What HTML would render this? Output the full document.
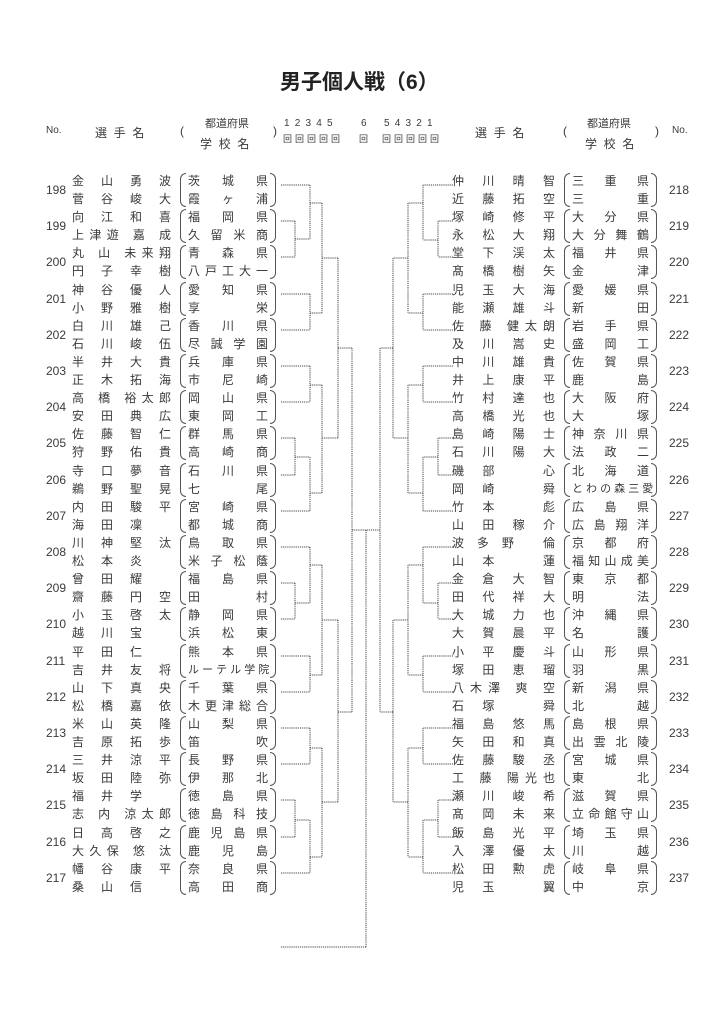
<!DOCTYPE html>
<html><head><meta charset="utf-8">
<style>
*{margin:0;padding:0;box-sizing:border-box}
body{width:728px;height:1035px;background:#fff;position:relative;overflow:hidden;font-family:"Liberation Sans","Noto Sans CJK JP",sans-serif;color:#3a3a3a}
.t{position:absolute;white-space:nowrap}
.e{position:absolute;left:0;width:728px;height:36px}
.e p{position:absolute;font-size:12px;line-height:18px;height:18px;text-align:justify;text-align-last:justify;white-space:nowrap;overflow:visible}
.e p.sm{font-size:11px}
s{visibility:hidden;text-decoration:none}
.no{position:absolute;font-size:12px;line-height:14px;top:11px}
.bl,.br{position:absolute;top:1px;height:34px;width:6px;border:1px solid #555}
.bl{border-right:none;border-radius:7px 0 0 7px}
.br{border-left:none;border-radius:0 7px 7px 0}
.L .n{left:72px;width:99px}
.L .s{left:188px;width:80px}
.L .bl{left:180px}.L .br{left:270px}
.L .no{left:46px}
.R .n{left:452px;width:103px}
.R .s{left:572px;width:77px}
.R .bl{left:564px}.R .br{left:651px}
.R .no{left:669px}
.a{top:0}.b{top:18px}
.h{position:absolute;font-size:12px}
</style></head><body>
<div class="t" style="left:280px;top:66px;font-size:21px;font-weight:bold;color:#222">男子個人戦（6）</div>

<div class="h" style="left:46px;top:125px;font-size:10px">No.</div>
<div class="h" style="left:95px;top:124px">選&nbsp;&nbsp;手&nbsp;&nbsp;名</div>
<div class="h" style="left:180px;top:124px">(</div>
<div class="h" style="left:205px;top:115px;font-size:11px">都道府県</div>
<div class="h" style="left:200px;top:135px">学&nbsp;&nbsp;校&nbsp;&nbsp;名</div>
<div class="h" style="left:273px;top:124px">)</div>
<div class="h" style="left:284px;top:118px;font-size:10px;letter-spacing:5.2px">12345</div>
<div class="h" style="left:283px;top:132px;font-size:9px;letter-spacing:3px">回回回回回</div>
<div class="h" style="left:361px;top:118px;font-size:10px">6</div>
<div class="h" style="left:359px;top:132px;font-size:9px">回</div>
<div class="h" style="left:384px;top:118px;font-size:10px;letter-spacing:5.2px">54321</div>
<div class="h" style="left:382px;top:132px;font-size:9px;letter-spacing:3px">回回回回回</div>
<div class="h" style="left:475px;top:124px">選&nbsp;&nbsp;手&nbsp;&nbsp;名</div>
<div class="h" style="left:563px;top:124px">(</div>
<div class="h" style="left:587px;top:115px;font-size:11px">都道府県</div>
<div class="h" style="left:585px;top:135px">学&nbsp;&nbsp;校&nbsp;&nbsp;名</div>
<div class="h" style="left:655px;top:124px">)</div>
<div class="h" style="left:672px;top:125px;font-size:10px">No.</div>

<svg width="728" height="1035" style="position:absolute;left:0;top:0" fill="none" stroke="#444" stroke-width="1" stroke-dasharray="1.2 0.9">
<path d="M281 185H310 M281 221H295 M281 257H295 M295 221V257 M295 239H310 M310 185V239 M310 203H322 M322 203V313 M281 294H310 M281 330H310 M310 294V330 M310 313H322 M322 258H338 M338 258V438 M281 366H310 M281 402H310 M310 366V402 M310 385H322 M322 385V493 M281 438H295 M281 475H295 M295 438V475 M295 457H310 M281 511H310 M310 457V511 M310 493H322 M322 438H338 M338 348H352 M352 348V712
M281 547H310 M310 547V603 M281 583H295 M281 619H295 M295 583V619 M295 603H310 M310 565H322 M322 565V675 M281 656H310 M281 692H310 M310 656V692 M310 675H322 M322 620H338 M338 620V802 M338 712H352 M281 728H310 M281 764H310 M310 728V764 M310 748H322 M322 748V857 M281 800H295 M281 837H295 M295 800V837 M295 820H310 M281 873H310 M310 820V873 M310 857H322 M322 802H338
M352 530H380 M366 530V947 M281 947H366
M453 185H423 M423 185V240 M453 221H438 M453 257H438 M438 221V257 M438 240H423 M423 203H408 M408 203V313 M453 294H423 M453 330H423 M423 294V330 M423 313H408 M408 258H393 M393 258V438 M453 366H423 M453 402H423 M423 366V402 M423 385H408 M408 385V493 M453 438H438 M453 475H438 M438 438V475 M438 457H423 M453 511H423 M423 457V511 M423 493H408 M408 438H393 M393 348H380 M380 348V712
M453 547H423 M423 547V603 M453 583H438 M453 619H438 M438 583V619 M438 603H423 M423 565H408 M408 565V675 M453 656H423 M453 692H423 M423 656V692 M423 675H408 M408 620H393 M393 620V802 M393 712H380 M453 728H423 M453 764H423 M423 728V764 M423 748H408 M408 748V857 M453 800H438 M453 837H438 M438 800V837 M438 820H423 M453 873H423 M423 820V873 M423 857H408 M408 802H393"/>
</svg>

<!-- LEFT -->
<div class="e L" style="top:172px"><span class="no">198</span><p class="n a">金 山 勇 波</p><p class="n b">菅 谷 峻 大</p><i class="bl"></i><p class="s a">茨 城 県</p><p class="s b">霞 ヶ 浦</p><i class="br"></i></div>
<div class="e L" style="top:208px"><span class="no">199</span><p class="n a">向 江 和 喜</p><p class="n b">上津遊 嘉 成</p><i class="bl"></i><p class="s a">福 岡 県</p><p class="s b">久 留 米 商</p><i class="br"></i></div>
<div class="e L" style="top:244px"><span class="no">200</span><p class="n a">丸 山 未来翔</p><p class="n b">円 子 幸 樹</p><i class="bl"></i><p class="s a">青 森 県</p><p class="s b">八 戸 工 大 一</p><i class="br"></i></div>
<div class="e L" style="top:281px"><span class="no">201</span><p class="n a">神 谷 優 人</p><p class="n b">小 野 雅 樹</p><i class="bl"></i><p class="s a">愛 知 県</p><p class="s b">享 栄</p><i class="br"></i></div>
<div class="e L" style="top:317px"><span class="no">202</span><p class="n a">白 川 雄 己</p><p class="n b">石 川 峻 伍</p><i class="bl"></i><p class="s a">香 川 県</p><p class="s b">尽 誠 学 園</p><i class="br"></i></div>
<div class="e L" style="top:353px"><span class="no">203</span><p class="n a">半 井 大 貴</p><p class="n b">正 木 拓 海</p><i class="bl"></i><p class="s a">兵 庫 県</p><p class="s b">市 尼 崎</p><i class="br"></i></div>
<div class="e L" style="top:389px"><span class="no">204</span><p class="n a">高 橋 裕太郎</p><p class="n b">安 田 典 広</p><i class="bl"></i><p class="s a">岡 山 県</p><p class="s b">東 岡 工</p><i class="br"></i></div>
<div class="e L" style="top:425px"><span class="no">205</span><p class="n a">佐 藤 智 仁</p><p class="n b">狩 野 佑 貴</p><i class="bl"></i><p class="s a">群 馬 県</p><p class="s b">高 崎 商</p><i class="br"></i></div>
<div class="e L" style="top:462px"><span class="no">206</span><p class="n a">寺 口 夢 音</p><p class="n b">鵜 野 聖 晃</p><i class="bl"></i><p class="s a">石 川 県</p><p class="s b">七 尾</p><i class="br"></i></div>
<div class="e L" style="top:498px"><span class="no">207</span><p class="n a">内 田 駿 平</p><p class="n b">海 田 凜 <s>口</s></p><i class="bl"></i><p class="s a">宮 崎 県</p><p class="s b">都 城 商</p><i class="br"></i></div>
<div class="e L" style="top:534px"><span class="no">208</span><p class="n a">川 神 堅 汰</p><p class="n b">松 本 炎 <s>口</s></p><i class="bl"></i><p class="s a">鳥 取 県</p><p class="s b">米 子 松 蔭</p><i class="br"></i></div>
<div class="e L" style="top:570px"><span class="no">209</span><p class="n a">曾 田 耀 <s>口</s></p><p class="n b">齋 藤 円 空</p><i class="bl"></i><p class="s a">福 島 県</p><p class="s b">田 村</p><i class="br"></i></div>
<div class="e L" style="top:606px"><span class="no">210</span><p class="n a">小 玉 啓 太</p><p class="n b">越 川 宝 <s>口</s></p><i class="bl"></i><p class="s a">静 岡 県</p><p class="s b">浜 松 東</p><i class="br"></i></div>
<div class="e L" style="top:643px"><span class="no">211</span><p class="n a">平 田 仁 <s>口</s></p><p class="n b">吉 井 友 将</p><i class="bl"></i><p class="s a">熊 本 県</p><p class="s b sm">ル ー テ ル 学 院</p><i class="br"></i></div>
<div class="e L" style="top:679px"><span class="no">212</span><p class="n a">山 下 真 央</p><p class="n b">松 橋 嘉 依</p><i class="bl"></i><p class="s a">千 葉 県</p><p class="s b">木 更 津 総 合</p><i class="br"></i></div>
<div class="e L" style="top:715px"><span class="no">213</span><p class="n a">米 山 英 隆</p><p class="n b">吉 原 拓 歩</p><i class="bl"></i><p class="s a">山 梨 県</p><p class="s b">笛 吹</p><i class="br"></i></div>
<div class="e L" style="top:751px"><span class="no">214</span><p class="n a">三 井 涼 平</p><p class="n b">坂 田 陸 弥</p><i class="bl"></i><p class="s a">長 野 県</p><p class="s b">伊 那 北</p><i class="br"></i></div>
<div class="e L" style="top:787px"><span class="no">215</span><p class="n a">福 井 学 <s>口</s></p><p class="n b">志 内 涼太郎</p><i class="bl"></i><p class="s a">徳 島 県</p><p class="s b">徳 島 科 技</p><i class="br"></i></div>
<div class="e L" style="top:824px"><span class="no">216</span><p class="n a">日 高 啓 之</p><p class="n b">大久保 悠 汰</p><i class="bl"></i><p class="s a">鹿 児 島 県</p><p class="s b">鹿 児 島</p><i class="br"></i></div>
<div class="e L" style="top:860px"><span class="no">217</span><p class="n a">幡 谷 康 平</p><p class="n b">桑 山 信 <s>口</s></p><i class="bl"></i><p class="s a">奈 良 県</p><p class="s b">高 田 商</p><i class="br"></i></div>

<!-- RIGHT -->
<div class="e R" style="top:172px"><span class="no">218</span><p class="n a">仲 川 晴 智</p><p class="n b">近 藤 拓 空</p><i class="bl"></i><p class="s a">三 重 県</p><p class="s b">三 重</p><i class="br"></i></div>
<div class="e R" style="top:208px"><span class="no">219</span><p class="n a">塚 崎 修 平</p><p class="n b">永 松 大 翔</p><i class="bl"></i><p class="s a">大 分 県</p><p class="s b">大 分 舞 鶴</p><i class="br"></i></div>
<div class="e R" style="top:244px"><span class="no">220</span><p class="n a">堂 下 渓 太</p><p class="n b">髙 橋 樹 矢</p><i class="bl"></i><p class="s a">福 井 県</p><p class="s b">金 津</p><i class="br"></i></div>
<div class="e R" style="top:281px"><span class="no">221</span><p class="n a">児 玉 大 海</p><p class="n b">能 瀬 雄 斗</p><i class="bl"></i><p class="s a">愛 媛 県</p><p class="s b">新 田</p><i class="br"></i></div>
<div class="e R" style="top:317px"><span class="no">222</span><p class="n a">佐 藤 健太朗</p><p class="n b">及 川 嵩 史</p><i class="bl"></i><p class="s a">岩 手 県</p><p class="s b">盛 岡 工</p><i class="br"></i></div>
<div class="e R" style="top:353px"><span class="no">223</span><p class="n a">中 川 雄 貴</p><p class="n b">井 上 康 平</p><i class="bl"></i><p class="s a">佐 賀 県</p><p class="s b">鹿 島</p><i class="br"></i></div>
<div class="e R" style="top:389px"><span class="no">224</span><p class="n a">竹 村 達 也</p><p class="n b">高 橋 光 也</p><i class="bl"></i><p class="s a">大 阪 府</p><p class="s b">大 塚</p><i class="br"></i></div>
<div class="e R" style="top:425px"><span class="no">225</span><p class="n a">島 崎 陽 士</p><p class="n b">石 川 陽 大</p><i class="bl"></i><p class="s a">神 奈 川 県</p><p class="s b">法 政 二</p><i class="br"></i></div>
<div class="e R" style="top:462px"><span class="no">226</span><p class="n a">磯 部 <s>口</s> 心</p><p class="n b">岡 崎 <s>口</s> 舜</p><i class="bl"></i><p class="s a">北 海 道</p><p class="s b sm">と わ の 森 三 愛</p><i class="br"></i></div>
<div class="e R" style="top:498px"><span class="no">227</span><p class="n a">竹 本 <s>口</s> 彪</p><p class="n b">山 田 稼 介</p><i class="bl"></i><p class="s a">広 島 県</p><p class="s b">広 島 翔 洋</p><i class="br"></i></div>
<div class="e R" style="top:534px"><span class="no">228</span><p class="n a">波多野 倫</p><p class="n b">山 本 <s>口</s> 蓮</p><i class="bl"></i><p class="s a">京 都 府</p><p class="s b">福 知 山 成 美</p><i class="br"></i></div>
<div class="e R" style="top:570px"><span class="no">229</span><p class="n a">金 倉 大 智</p><p class="n b">田 代 祥 大</p><i class="bl"></i><p class="s a">東 京 都</p><p class="s b">明 法</p><i class="br"></i></div>
<div class="e R" style="top:606px"><span class="no">230</span><p class="n a">大 城 力 也</p><p class="n b">大 賀 晨 平</p><i class="bl"></i><p class="s a">沖 縄 県</p><p class="s b">名 護</p><i class="br"></i></div>
<div class="e R" style="top:643px"><span class="no">231</span><p class="n a">小 平 慶 斗</p><p class="n b">塚 田 恵 瑠</p><i class="bl"></i><p class="s a">山 形 県</p><p class="s b">羽 黒</p><i class="br"></i></div>
<div class="e R" style="top:679px"><span class="no">232</span><p class="n a">八木澤 爽 空</p><p class="n b">石 塚 <s>口</s> 舜</p><i class="bl"></i><p class="s a">新 潟 県</p><p class="s b">北 越</p><i class="br"></i></div>
<div class="e R" style="top:715px"><span class="no">233</span><p class="n a">福 島 悠 馬</p><p class="n b">矢 田 和 真</p><i class="bl"></i><p class="s a">島 根 県</p><p class="s b">出 雲 北 陵</p><i class="br"></i></div>
<div class="e R" style="top:751px"><span class="no">234</span><p class="n a">佐 藤 駿 丞</p><p class="n b">工 藤 陽光也</p><i class="bl"></i><p class="s a">宮 城 県</p><p class="s b">東 北</p><i class="br"></i></div>
<div class="e R" style="top:787px"><span class="no">235</span><p class="n a">瀬 川 峻 希</p><p class="n b">髙 岡 未 来</p><i class="bl"></i><p class="s a">滋 賀 県</p><p class="s b">立 命 館 守 山</p><i class="br"></i></div>
<div class="e R" style="top:824px"><span class="no">236</span><p class="n a">飯 島 光 平</p><p class="n b">入 澤 優 太</p><i class="bl"></i><p class="s a">埼 玉 県</p><p class="s b">川 越</p><i class="br"></i></div>
<div class="e R" style="top:860px"><span class="no">237</span><p class="n a">松 田 勲 虎</p><p class="n b">児 玉 <s>口</s> 翼</p><i class="bl"></i><p class="s a">岐 阜 県</p><p class="s b">中 京</p><i class="br"></i></div>
</body></html>
